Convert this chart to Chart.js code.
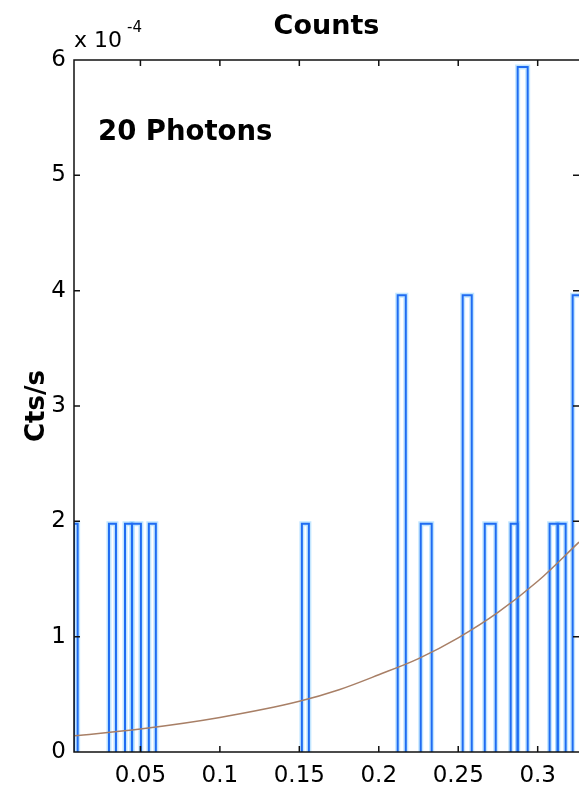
<!DOCTYPE html>
<html lang="en">
<head>
    <meta charset="UTF-8">
    <title>Counts</title>
    <style>
        body {
            margin: 0;
            background: #ffffff;
        }
        #chartBox {
            width: 579px;
            height: 792px;
        }
    </style>
</head>
<body>
    <div id="chartBox">
        <canvas id="countsChart" width="579" height="792"></canvas>
    </div>
<script src="https://cdn.jsdelivr.net/npm/chart.js"></script>
<script>
    // Histogram bins (x in arbitrary units, rate in units of 1e-4 cts/s)
    const binLo   = [0.0082, 0.0302, 0.0403, 0.0447, 0.0553, 0.1516, 0.2119, 0.2264, 0.2528, 0.2667, 0.2830, 0.2874, 0.3075, 0.3126, 0.3220];
    const binHi   = [0.0105, 0.0346, 0.0447, 0.0503, 0.0597, 0.1560, 0.2170, 0.2333, 0.2585, 0.2736, 0.2874, 0.2937, 0.3126, 0.3176, 0.3300];
    const binRate = [1.98,   1.98,   1.98,   1.98,   1.98,   1.98,   3.96,   1.98,   3.96,   1.98,   1.98,   5.94,   1.98,   1.98,   3.96];

    // Model curve
    const curveX = [0.0082, 0.05, 0.1, 0.15, 0.175, 0.2, 0.225, 0.25, 0.275, 0.3, 0.326];
    const curveY = [0.14,   0.20, 0.30, 0.44, 0.54,  0.67, 0.81, 0.99, 1.21,  1.48, 1.82];

    const xTicks = [0.05, 0.1, 0.15, 0.2, 0.25, 0.3];
    const yTicks = [0, 1, 2, 3, 4, 5, 6];
    const xMin = 0.0082, xMax = 0.326;

    // stairs outline for each bin
    const stairs = [];
    binLo.forEach((lo, i) => {
        const hi = binHi[i], h = binRate[i];
        stairs.push({x: lo, y: 0}, {x: lo, y: h}, {x: hi, y: h}, {x: hi, y: 0});
    });
    const curve = curveX.map((x, i) => ({x: x, y: curveY[i]}));

    // no stroke where the outline runs along zero between bins
    const hideBaseline = {
        borderColor: c => (c.p0.parsed.y === 0 && c.p1.parsed.y === 0) ? 'transparent' : undefined
    };

    const FONT = "'DejaVu Sans', sans-serif";

    // box, inward ticks and the text annotations
    const frame = {
        id: 'frame',
        afterDatasetsDraw(chart) {
            const {ctx, chartArea: a, scales} = chart;
            ctx.save();
            ctx.strokeStyle = '#111';
            ctx.lineWidth = 1.5;
            ctx.beginPath();
            ctx.moveTo(a.right + 2, a.top);
            ctx.lineTo(a.left, a.top);
            ctx.lineTo(a.left, a.bottom);
            ctx.lineTo(a.right + 2, a.bottom);
            const len = 6;
            xTicks.forEach(v => {
                const px = scales.x.getPixelForValue(v);
                ctx.moveTo(px, a.bottom); ctx.lineTo(px, a.bottom - len);
                ctx.moveTo(px, a.top); ctx.lineTo(px, a.top + len);
            });
            yTicks.forEach(v => {
                const py = scales.y.getPixelForValue(v);
                ctx.moveTo(a.left, py); ctx.lineTo(a.left + len, py);
                ctx.moveTo(a.right, py); ctx.lineTo(a.right - len, py);
            });
            ctx.stroke();

            ctx.fillStyle = '#000';
            ctx.textBaseline = 'alphabetic';
            ctx.textAlign = 'left';
            ctx.font = '22px ' + FONT;
            ctx.fillText('x 10', a.left, 47);
            ctx.font = '15px ' + FONT;
            ctx.fillText('-4', a.left + 53, 32);
            ctx.font = 'bold 27.5px ' + FONT;
            ctx.fillText('20 Photons', a.left + 24, 140);
            ctx.restore();
        }
    };

    new Chart(document.getElementById('countsChart'), {
        type: 'line',
        data: {
            datasets: [{
                label: 'Counts',
                data: stairs,
                borderColor: '#1f6cf2',
                borderWidth: 2,
                pointRadius: 0,
                tension: 0,
                segment: hideBaseline,
                order: 1
            }, {
                // soft light-blue edge around the histogram outline
                label: 'Counts halo',
                data: stairs,
                borderColor: 'rgba(120, 200, 255, 0.45)',
                borderWidth: 5,
                pointRadius: 0,
                tension: 0,
                segment: hideBaseline,
                order: 3
            }, {
                label: 'Model',
                data: curve,
                borderColor: '#a87f66',
                borderWidth: 1.5,
                pointRadius: 0,
                cubicInterpolationMode: 'monotone',
                order: 0
            }]
        },
        options: {
            responsive: false,
            animation: false,
            devicePixelRatio: 1,
            layout: { padding: 0 },
            plugins: {
                legend: { display: false },
                tooltip: { enabled: false },
                title: {
                    display: true,
                    text: 'Counts',
                    fullSize: false,
                    color: '#000',
                    font: { family: FONT, size: 27, weight: 'bold' },
                    padding: { top: 11, bottom: 16.6 }
                }
            },
            scales: {
                x: {
                    type: 'linear',
                    min: xMin,
                    max: xMax,
                    afterBuildTicks: s => { s.ticks = xTicks.map(v => ({value: v})); },
                    afterFit: s => { s.height = 40; },
                    grid: { display: false, drawTicks: false },
                    border: { display: false },
                    ticks: {
                        color: '#000',
                        padding: 10,
                        maxRotation: 0,
                        font: { family: FONT, size: 23 },
                        callback: v => String(parseFloat(v.toFixed(2)))
                    }
                },
                y: {
                    min: 0,
                    max: 6,
                    afterBuildTicks: s => { s.ticks = yTicks.map(v => ({value: v})); },
                    afterFit: s => { s.width = 74; },
                    grid: { display: false, drawTicks: false },
                    border: { display: false },
                    ticks: {
                        color: '#000',
                        padding: 8,
                        font: { family: FONT, size: 23 },
                        callback: v => String(v)
                    },
                    title: {
                        display: true,
                        text: 'Cts/s',
                        color: '#000',
                        font: { family: FONT, size: 26, weight: 'bold' },
                        padding: { top: 22, bottom: 0 }
                    }
                }
            }
        },
        plugins: [frame]
    });
</script>
</body>
</html>
